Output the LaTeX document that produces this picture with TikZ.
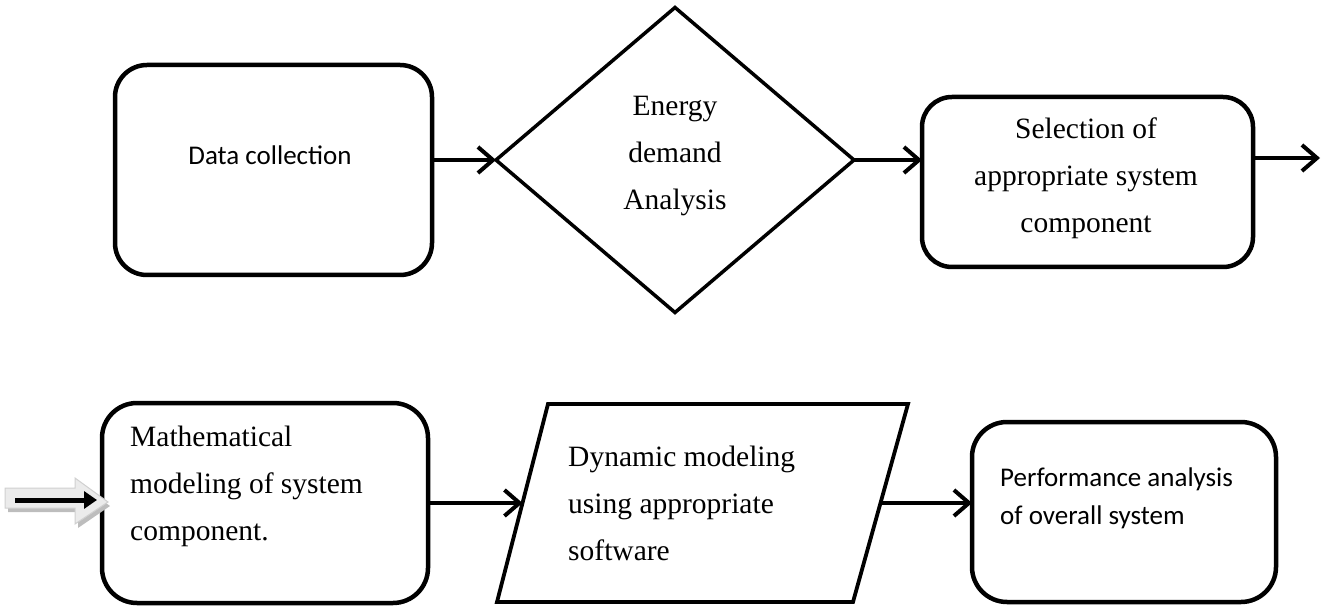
\documentclass[tikz,border=0pt]{standalone}
\usepackage{fontspec}
\setmainfont{Liberation Serif}
\newfontfamily\calib{Carlito}
\usetikzlibrary{shapes.geometric,arrows.meta,calc}
\definecolor{blockfill}{HTML}{EBEBEB}
\definecolor{blockline}{HTML}{D0D0D0}
\definecolor{blockshadow}{HTML}{BDBDBD}
\begin{document}
\begin{tikzpicture}[x=1pt,y=-1pt,
  box/.style={draw,line width=4.5pt,rounded corners=32pt,inner sep=0pt,outer sep=0pt},
  shp/.style={draw,line width=3.5pt,inner sep=0pt,outer sep=0pt},
  arr/.style={line width=4pt,-{Straight Barb[length=15pt,width=26pt]}},
  sertext/.style={font=\fontsize{29.5}{47}\selectfont,inner sep=0pt},
  caltext/.style={font=\calib\fontsize{27}{38}\selectfont,inner sep=0pt}
]
\useasboundingbox (0,0) rectangle (1325,609);
% top row
\node[box,minimum width=317pt,minimum height=210pt] (b1) at (273.5,170) {};
\node[shp,diamond,minimum width=358pt,minimum height=305pt] (dia) at (675,160) {};
\node[box,rounded corners=30pt,minimum width=331pt,minimum height=170pt] (b3) at (1087.5,182) {};
\coordinate (out) at (1320,158);
% bottom row
\node[box,rounded corners=35pt,minimum width=326pt,minimum height=200pt] (b4) at (265,503) {};
\coordinate (pTL) at (548,404);
\coordinate (pTR) at (908,404);
\coordinate (pBR) at (853,602);
\coordinate (pBL) at (497,602);
\draw[line width=3.8pt,line join=miter] (pTL) -- (pTR) -- (pBR) -- (pBL) -- cycle;
\coordinate (pW) at ($(pTL)!0.5!(pBL)$);
\coordinate (pE) at ($(pTR)!0.5!(pBR)$);
\node[box,rounded corners=35pt,minimum width=304pt,minimum height=180pt] (b6) at (1124,512) {};
% texts
\node[caltext] (t1) at (270,155) {Data collection};
\node[sertext,align=center] (t2) at (675,156) {Energy\\demand\\Analysis};
\node[sertext,align=center] (t3) at (1086,178) {Selection of\\appropriate system\\component};
\node[sertext,align=left,anchor=west] (t4) at (130,486) {Mathematical\\modeling of system\\component.};
\node[sertext,align=left,anchor=west] (t5) at (568,503) {Dynamic modeling\\using appropriate\\software};
\node[caltext,align=left,anchor=west] (t6) at (1000,498) {Performance analysis\\of overall system};
% connectors
\draw[arr] (b1.east |- dia.west) -- (dia.west);
\draw[arr] (dia.east) -- (dia.east -| b3.west);
\draw[arr] (b3.east |- out) -- (out);
\draw[arr] (b4.east) -- (pW);
\draw[arr] (pE) -- (pE -| b6.west);
% left incoming block arrow
\fill[blockshadow] (8,492) -- (78,492) -- (78,482) -- (110,506) -- (78,528) -- (78,512) -- (8,512) -- cycle;
\filldraw[fill=blockfill,draw=blockline,line width=1pt] (5,488) -- (75,488) -- (75,478) -- (108,502) -- (75,524) -- (75,508) -- (5,508) -- cycle;
\coordinate (in0) at (15,500);
\draw[line width=5pt,-{Triangle[length=13pt,width=17pt]},shorten >=5pt] (in0) -- (b4.west |- in0);
\end{tikzpicture}
\end{document}
